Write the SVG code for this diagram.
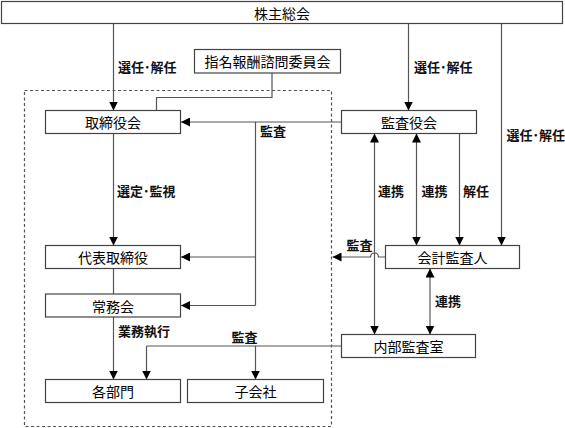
<svg xmlns="http://www.w3.org/2000/svg" width="565" height="428" viewBox="0 0 565 428">
<defs>
<marker id="arr" viewBox="0 0 10 10" refX="10" refY="5" markerWidth="9" markerHeight="9" markerUnits="userSpaceOnUse" orient="auto-start-reverse">
<path d="M0,0 L10,5 L0,10 z" fill="#000"/>
</marker>
<style>
.box{fill:#fff;stroke:#444;stroke-width:1.2}
.bt{font-family:"Noto Sans CJK JP","Noto Sans",sans-serif;font-size:14px;fill:#000;text-anchor:middle;dominant-baseline:central}
.lb{font-family:"Noto Sans CJK JP","Noto Sans",sans-serif;font-size:13px;font-weight:bold;fill:#111}
.ln{fill:none;stroke:#555;stroke-width:1.2}
.ar{marker-end:url(#arr)}
.ar2{marker-start:url(#arr);marker-end:url(#arr)}
.dash{fill:none;stroke:#555;stroke-width:1.2;stroke-dasharray:3,2.5}
</style>
</defs>
<rect class="dash" x="24.5" y="90.5" width="307" height="336"/>
<g id="connectors">
<path class="ln ar" d="M113.5,23.5 V110.5"/>
<path class="ln ar" d="M408.5,23.5 V110.5"/>
<path class="ln ar" d="M501.5,23.5 V245.5"/>
<path class="ln" d="M272,73 V97.5 H156.5 V110.5"/>
<path class="ln ar" d="M341.5,122 H181"/>
<path class="ln" d="M255.5,122 V305.5"/>
<path class="ln ar" d="M255.5,257 H181"/>
<path class="ln ar" d="M255.5,305.5 H181"/>
<path class="ln ar" d="M113.5,133.5 V245.5"/>
<path class="ln" d="M113.5,268.5 V294"/>
<path class="ln ar" d="M113.5,317 V379.5"/>
<path class="ln" d="M341.5,346 H146.5"/>
<path class="ln ar" d="M146.5,346 V379.5"/>
<path class="ln ar" d="M255.5,346 V379.5"/>
<path class="ln ar2" d="M374.5,133.5 V334.5"/>
<path class="ln ar2" d="M416.5,133.5 V245.5"/>
<path class="ln ar" d="M459.5,133.5 V245.5"/>
<path class="ln ar" d="M385.5,257 H378.5 A4,4 0 0 0 370.5,257 H332.5"/>
<path class="ln ar2" d="M430,268.5 V334.5"/>
<text class="lb" x="118" y="72">選任･解任</text>
<text class="lb" x="414" y="72">選任･解任</text>
<text class="lb" x="506.5" y="139.5">選任･解任</text>
<text class="lb" x="260" y="136">監査</text>
<text class="lb" x="117" y="195.5">選定･監視</text>
<text class="lb" x="378" y="196">連携</text>
<text class="lb" x="421.5" y="196">連携</text>
<text class="lb" x="463" y="196">解任</text>
<text class="lb" x="346.5" y="249.5">監査</text>
<text class="lb" x="435" y="306">連携</text>
<text class="lb" x="118" y="336">業務執行</text>
<text class="lb" x="231.5" y="341.5">監査</text>
</g>
<g id="kabunushi"><rect class="box" x="1.5" y="1.5" width="561" height="22"/><text class="bt" x="282" y="12.5">株主総会</text></g>
<g id="shimei"><rect class="box" x="194.5" y="49.5" width="146" height="23.5"/><text class="bt" x="267.5" y="61">指名報酬諮問委員会</text></g>
<g id="torishimariyakukai"><rect class="box" x="45.5" y="110.5" width="135" height="23"/><text class="bt" x="113" y="122">取締役会</text></g>
<g id="kansayakukai"><rect class="box" x="341.5" y="110.5" width="135" height="23"/><text class="bt" x="409" y="122">監査役会</text></g>
<g id="daihyo"><rect class="box" x="45.5" y="245.5" width="135" height="23"/><text class="bt" x="113" y="257">代表取締役</text></g>
<g id="jomukai"><rect class="box" x="45.5" y="294" width="135" height="23"/><text class="bt" x="113" y="305.5">常務会</text></g>
<g id="kaikeikansanin"><rect class="box" x="385.5" y="245.5" width="134" height="23"/><text class="bt" x="452.5" y="257">会計監査人</text></g>
<g id="naibukansa"><rect class="box" x="341.5" y="334.5" width="134" height="23"/><text class="bt" x="408.5" y="346">内部監査室</text></g>
<g id="kakubumon"><rect class="box" x="45.5" y="379.5" width="135" height="23"/><text class="bt" x="113" y="391">各部門</text></g>
<g id="kogaisha"><rect class="box" x="187.5" y="379.5" width="136" height="23"/><text class="bt" x="255.5" y="391">子会社</text></g>
</svg>
